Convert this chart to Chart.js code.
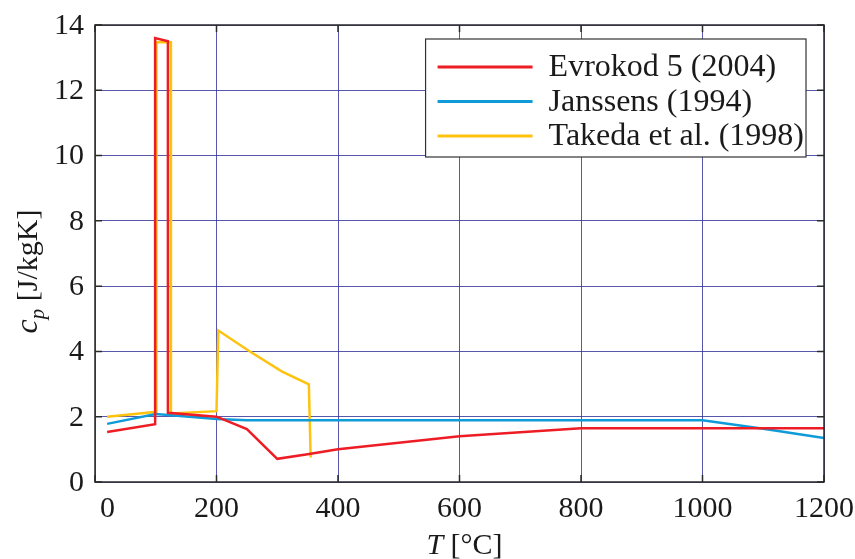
<!DOCTYPE html>
<html lang="sl">
<head>
<meta charset="UTF-8" />
<title>Specifična toplota lesa</title>
<style>
  body {
    margin: 0;
    background: #fff;
  }
  #wrap {
    width: 855px;
    height: 559px;
  }
</style>
</head>
<body>

<div id="wrap"><canvas id="cp-chart" width="855" height="559"></canvas></div>

<script src="https://cdn.jsdelivr.net/npm/chart.js"></script>

<script>
// specific heat c_p [J/kgK] against temperature T [°C]
const evrokodT  = [20, 99, 99, 120, 120, 200, 250, 300, 350, 400, 600, 800, 1200];
const evrokodCp = [1.53, 1.77, 13.60, 13.50, 2.12, 2.00, 1.62, 0.71, 0.85, 1.00, 1.40, 1.65, 1.65];

const janssensT  = [20, 100, 150, 200, 250, 1000, 1100, 1200];
const janssensCp = [1.78, 2.08, 2.01, 1.93, 1.89, 1.89, 1.63, 1.35];

const takedaT  = [20, 101, 101, 125, 125, 200, 203, 253, 308, 352, 355];
const takedaCp = [2.00, 2.15, 13.47, 13.47, 2.10, 2.17, 4.64, 4.02, 3.38, 2.99, 0.75];

const seriesNames = ["Evrokod 5 (2004)", "Janssens (1994)", "Takeda et al. (1998)"];
const seriesColors = ["#ee1d25", "#0f9bd7", "#fdc30f"];

const xTicks = [0, 200, 400, 600, 800, 1000, 1200];
const yTicks = [0, 2, 4, 6, 8, 10, 12, 14];

const SERIF = "'Liberation Serif', 'Times New Roman', serif";

function toPoints(xs, ys) {
  return xs.map((x, i) => ({ x: x, y: ys[i] }));
}

function makeDataset(i, xs, ys) {
  return {
    label: seriesNames[i],
    data: toPoints(xs, ys),
    borderColor: seriesColors[i],
    backgroundColor: seriesColors[i],
    borderWidth: 2.5,
    pointRadius: 0,
    showLine: true,
    tension: 0,
    clip: false
  };
}

// box, inward tick marks, legend and axis titles
const frame = {
  id: "frame",
  afterDraw(chart) {
    const ctx = chart.ctx;
    const a = chart.chartArea;
    const xs = chart.scales.x;
    const ys = chart.scales.y;
    const tl = 7;

    ctx.save();
    ctx.strokeStyle = "#2a2a2a";
    ctx.lineWidth = 1.5;
    ctx.strokeRect(a.left, a.top, a.right - a.left, a.bottom - a.top);

    ctx.beginPath();
    xs.ticks.forEach(t => {
      const px = xs.getPixelForValue(t.value);
      ctx.moveTo(px, a.bottom); ctx.lineTo(px, a.bottom - tl);
      ctx.moveTo(px, a.top); ctx.lineTo(px, a.top + tl);
    });
    ys.ticks.forEach(t => {
      const py = ys.getPixelForValue(t.value);
      ctx.moveTo(a.left, py); ctx.lineTo(a.left + tl, py);
      ctx.moveTo(a.right, py); ctx.lineTo(a.right - tl, py);
    });
    ctx.stroke();

    // tick labels
    ctx.fillStyle = "#1a1a1a";
    ctx.font = "30px " + SERIF;
    ctx.textBaseline = "middle";
    ctx.textAlign = "right";
    ys.ticks.forEach(t => {
      ctx.fillText(String(t.value), a.left - 11, ys.getPixelForValue(t.value) + 1);
    });
    xs.ticks.forEach((t, i) => {
      const px = xs.getPixelForValue(t.value);
      if (i === 0) {
        ctx.textAlign = "left";
        ctx.fillText(String(t.value), px + 5, a.bottom + 27);
      } else {
        ctx.textAlign = "center";
        ctx.fillText(String(t.value), px, a.bottom + 27);
      }
    });

    // legend
    ctx.font = "32px " + SERIF;
    const items = chart.data.datasets;
    let maxW = 0;
    items.forEach(d => { maxW = Math.max(maxW, ctx.measureText(d.label).width); });
    const boxRight = a.right - 18;
    const boxTop = a.top + 14;
    const boxW = 123 + maxW + 2;
    const boxH = 118;
    const boxLeft = boxRight - boxW;
    ctx.fillStyle = "#fff";
    ctx.fillRect(boxLeft, boxTop, boxW, boxH);
    ctx.lineWidth = 1.2;
    ctx.strokeStyle = "#333";
    ctx.strokeRect(boxLeft, boxTop, boxW, boxH);
    items.forEach((d, i) => {
      const ry = boxTop + 28 + i * 34.5;
      ctx.strokeStyle = d.borderColor;
      ctx.lineWidth = 3;
      ctx.beginPath();
      ctx.moveTo(boxLeft + 12, ry);
      ctx.lineTo(boxLeft + 107, ry);
      ctx.stroke();
      ctx.fillStyle = "#1a1a1a";
      ctx.textAlign = "left";
      ctx.textBaseline = "middle";
      ctx.fillText(d.label, boxLeft + 123, ry + 1);
    });

    // x title: T [°C]
    ctx.fillStyle = "#1a1a1a";
    ctx.textBaseline = "alphabetic";
    ctx.textAlign = "left";
    const cx = (a.left + a.right) / 2 + 5;
    const baseX = a.bottom + 72;
    ctx.font = "italic 30px " + SERIF;
    const wT = ctx.measureText("T ").width;
    ctx.font = "30px " + SERIF;
    const wRest = ctx.measureText("[°C]").width;
    let sx = cx - (wT + wRest) / 2;
    ctx.font = "italic 30px " + SERIF;
    ctx.fillText("T ", sx, baseX);
    ctx.font = "30px " + SERIF;
    ctx.fillText("[°C]", sx + wT, baseX);

    // y title: c_p [J/kgK]
    ctx.translate(a.left - 68, (a.top + a.bottom) / 2 + 18);
    ctx.rotate(-Math.PI / 2);
    ctx.font = "italic 32px " + SERIF;
    const wc = ctx.measureText("c").width;
    ctx.font = "italic 21px " + SERIF;
    const wp = ctx.measureText("p").width;
    ctx.font = "30px " + SERIF;
    const rest = " [J/kgK]";
    const wr = ctx.measureText(rest).width;
    sx = -(wc + wp + wr) / 2;
    ctx.font = "italic 32px " + SERIF;
    ctx.fillText("c", sx, 10);
    ctx.font = "italic 21px " + SERIF;
    ctx.fillText("p", sx + wc, 17);
    ctx.font = "30px " + SERIF;
    ctx.fillText(rest, sx + wc + wp, 10);
    ctx.restore();
  }
};

new Chart(document.getElementById("cp-chart"), {
  type: "scatter",
  data: {
    datasets: [
      makeDataset(0, evrokodT, evrokodCp),
      makeDataset(1, janssensT, janssensCp),
      makeDataset(2, takedaT, takedaCp)
    ]
  },
  options: {
    responsive: false,
    animation: false,
    layout: { padding: { top: 25, right: 31, left: 0, bottom: 0 } },
    plugins: {
      legend: { display: false },
      tooltip: { enabled: false }
    },
    scales: {
      x: {
        type: "linear",
        min: 0,
        max: 1200,
        afterBuildTicks: s => { s.ticks = xTicks.map(v => ({ value: v })); },
        afterFit: s => { s.height = 77; },
        ticks: { display: false },
        grid: { color: "rgba(45,45,150,0.8)", lineWidth: 1, drawTicks: false },
        border: { display: false }
      },
      y: {
        type: "linear",
        min: 0,
        max: 14,
        afterBuildTicks: s => { s.ticks = yTicks.map(v => ({ value: v })); },
        afterFit: s => { s.width = 95; },
        ticks: { display: false },
        grid: { color: "rgba(45,45,150,0.8)", lineWidth: 1, drawTicks: false },
        border: { display: false }
      }
    }
  },
  plugins: [frame]
});
</script>
</body>
</html>
